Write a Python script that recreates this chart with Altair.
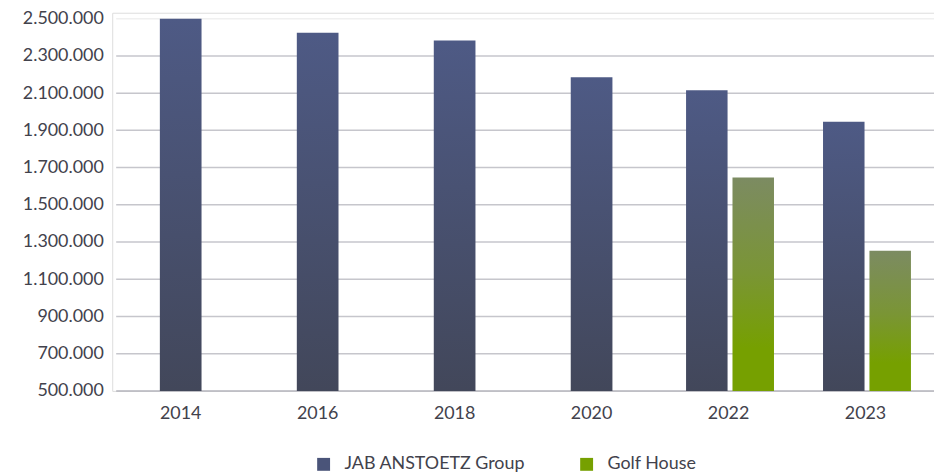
import altair as alt
import pandas as pd

years = ["2014", "2016", "2018", "2020", "2022", "2023"]
jab = [2500000, 2425000, 2383000, 2186000, 2116000, 1946000]
golf = [None, None, None, None, 1647000, 1253000]
series = ["JAB ANSTOETZ Group", "Golf House"]
y_ticks = [500000, 700000, 900000, 1100000, 1300000, 1500000, 1700000,
           1900000, 2100000, 2300000, 2500000]

rows = []
for yr, a, b in zip(years, jab, golf):
    rows.append({"year": yr, "series": series[0], "value": a, "pair": b is not None})
    if b is not None:
        rows.append({"year": yr, "series": series[1], "value": b, "pair": True})
df = pd.DataFrame(rows)
grid_df = pd.DataFrame({"value": y_ticks})

# plot area: 6px of headroom above the top tick so its label is not clipped
W, H = 828, 381
FONT = "Lato"
FS = 18
TXT = "#42424c"

blue_grad = alt.Gradient(
    gradient="linear",
    stops=[alt.GradientStop(color="#4e5a85", offset=0),
           alt.GradientStop(color="#42475a", offset=1)],
    x1=0, x2=0, y1=0, y2=1)
green_grad = alt.Gradient(
    gradient="linear",
    stops=[alt.GradientStop(color="#7c8b62", offset=0),
           alt.GradientStop(color="#7a9535", offset=0.45),
           alt.GradientStop(color="#76a000", offset=0.8),
           alt.GradientStop(color="#76a000", offset=1)],
    x1=0, x2=0, y1=0, y2=1)

yscale = alt.Scale(domain=[500000, 2532000], nice=False, zero=False)
xscale = alt.Scale(domain=years, paddingInner=0, paddingOuter=0)
offscale = alt.Scale(domain=series, paddingInner=0.106, paddingOuter=0.528, align=0.53)

y_axis = alt.Axis(title=None, values=y_ticks, grid=False, domain=False, ticks=False,
                  labelPadding=9, labelFontSize=FS, labelFont=FONT, labelColor=TXT,
                  labelExpr="replace(replace(format(datum.value, ','), ',', '.'), ',', '.')")
x_enc = alt.X("year:N", scale=xscale, sort=years,
              axis=alt.Axis(title=None, labelAngle=0, ticks=False, domain=False, grid=False,
                            labelPadding=14, labelFontSize=FS, labelFont=FONT, labelColor=TXT))
y_enc = alt.Y("value:Q", scale=yscale, axis=y_axis)

grid_color = (alt.when("datum.value == 2500000").then(alt.value("#f0f0f0"))
              .when("datum.value == 500000").then(alt.value("#b4b4bc"))
              .otherwise(alt.value("#c6c6cc")))

grid = alt.Chart(grid_df).mark_rule(strokeWidth=1.5).encode(
    y=y_enc,
    x=alt.value(4), x2=alt.value(W),
    color=grid_color,
)

single = alt.Chart(df).transform_filter("!datum.pair").mark_bar(width=42, color=blue_grad).encode(
    x=x_enc, y=y_enc, y2=alt.datum(500000))

paired_blue = alt.Chart(df).transform_filter(
    f"datum.pair && datum.series == '{series[0]}'").mark_bar(color=blue_grad).encode(
    x=x_enc, y=y_enc, y2=alt.datum(500000),
    xOffset=alt.XOffset("series:N", scale=offscale))

paired_green = alt.Chart(df).transform_filter(
    f"datum.series == '{series[1]}'").mark_bar(color=green_grad).encode(
    x=x_enc, y=y_enc, y2=alt.datum(500000),
    xOffset=alt.XOffset("series:N", scale=offscale))

legend_layer = alt.Chart(df).mark_square(opacity=0).encode(
    x=x_enc, y=y_enc,
    color=alt.Color("series:N",
                    scale=alt.Scale(domain=series, range=["#4a5479", "#76a000"]),
                    legend=alt.Legend(orient="none", legendX=204, legendY=446,
                                      direction="horizontal", title=None,
                                      symbolType="square", symbolSize=169,
                                      symbolOpacity=1, symbolStrokeWidth=0,
                                      labelFontSize=FS, labelFont=FONT, labelColor=TXT,
                                      labelLimit=400, labelOffset=12, columnPadding=52)),
)

chart = alt.layer(grid, single, paired_blue, paired_green, legend_layer).properties(
    width=W, height=H,
    autosize=alt.AutoSizeParams(type="none"),
    padding={"left": 105, "top": 3, "right": 0, "bottom": 90},
).configure_view(strokeWidth=0, stroke="transparent").configure_axis(
    domain=False, ticks=False, grid=False
).configure(font=FONT)

chart.save("out.html", embed_options={"renderer": "svg", "actions": False})
